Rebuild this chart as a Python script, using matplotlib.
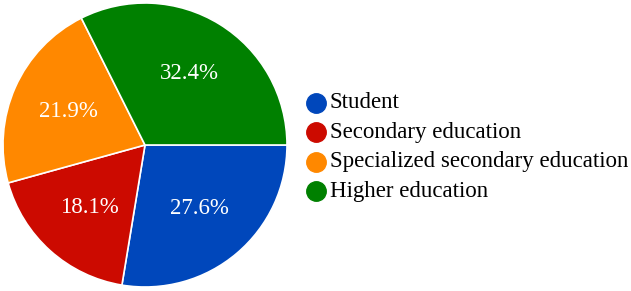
import matplotlib.pyplot as plt
from matplotlib.lines import Line2D

# categories and shares (%)
labels = ['Student', 'Secondary education', 'Specialized secondary education', 'Higher education']
shares = [27.6, 18.1, 21.9, 32.4]
colors = ['#0047bb', '#cc0a00', '#ff8800', '#008000']

plt.rcParams['font.family'] = ['Liberation Serif', 'DejaVu Serif']

W, H = 631, 291
fig = plt.figure(figsize=(W / 100, H / 100), dpi=100)

# pie area: center (145,145) px, radius 142 px
cx, cy, r = 145, 145, 142
ax = fig.add_axes([(cx - r) / W, (H - cy - r) / H, 2 * r / W, 2 * r / H])
wedges, texts = ax.pie(shares, colors=colors, startangle=0, counterclock=False,
                       radius=1, wedgeprops=dict(edgecolor='white', linewidth=1.2),
                       labels=[f'{s:.1f}%' for s in shares], labeldistance=0.59,
                       textprops=dict(color='white', fontsize=16.5, ha='center', va='center'))
ax.set_xlim(-1, 1)
ax.set_ylim(-1, 1)
ax.set_aspect('auto')
ax.axis('off')

# legend drawn by hand
y0, dy = 103, 29.4
for i, (name, col) in enumerate(zip(labels, colors)):
    y = (H - (y0 + i * dy)) / H
    fig.add_artist(Line2D([316 / W], [y], marker='o', markersize=14, color=col,
                          transform=fig.transFigure))
    fig.text(329.5 / W, y, name, fontsize=16.5, va='center', ha='left', color='black')

fig.savefig('out.png', dpi=100)
